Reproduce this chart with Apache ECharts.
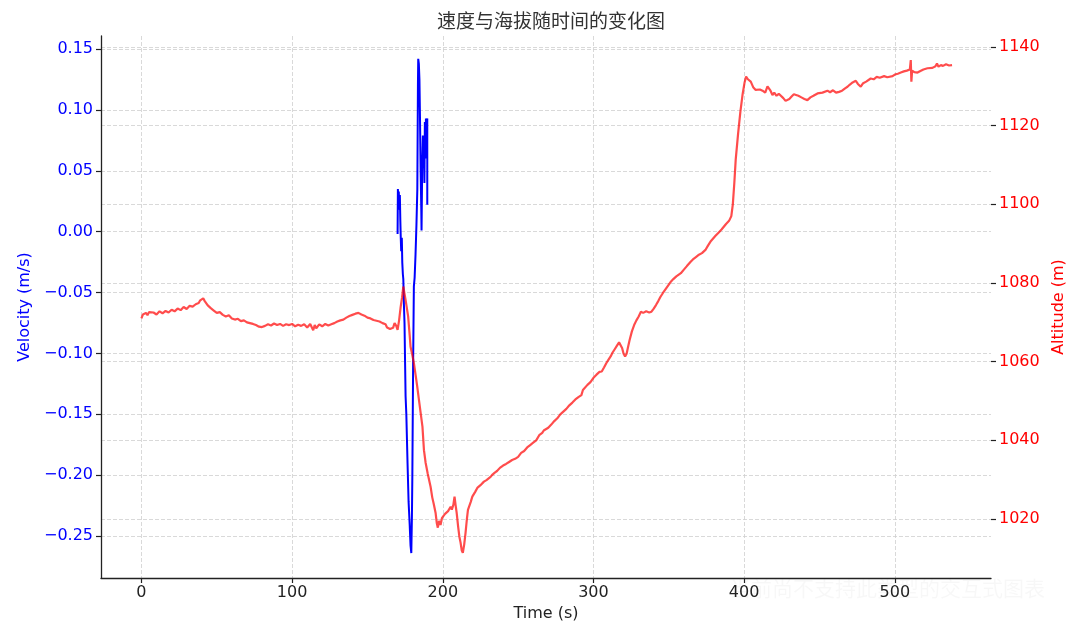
<!DOCTYPE html>
<html>
<head>
<meta charset="utf-8">
<script src="https://cdn.jsdelivr.net/npm/echarts@6/dist/echarts.min.js"></script>
<style>html,body{margin:0;padding:0;background:#fff;}#c{width:1080px;height:634px;}</style>
</head>
<body>
<div id="c"></div>
<script>
// ---- data ----
const titleText = '速度与海拔随时间的变化图';
const xTicks = [0, 100, 200, 300, 400, 500];
const velTicks = [-0.25, -0.20, -0.15, -0.10, -0.05, 0.00, 0.05, 0.10, 0.15];
const altTicks = [1020, 1040, 1060, 1080, 1100, 1120, 1140];

const velTime = [170.0,170.2,170.5,170.8,171.1,171.5,171.8,172.1,172.4,172.8,173.1,173.5,173.8,174.2,174.6,175.0,175.3,175.8,176.6,177.3,178.0,178.6,179.1,179.5,179.8,180.3,180.8,181.3,181.9,182.5,183.1,183.5,183.7,184.1,184.5,184.8,185.3,185.7,185.9,186.3,186.8,187.1,187.5,187.8,188.1,188.5,188.8,189.2,189.7,189.7];
const velValues = [-0.002,0.035,0.022,0.033,0.018,0.030,0.010,-0.005,-0.016,-0.005,-0.025,-0.035,-0.039,-0.060,-0.075,-0.110,-0.135,-0.150,-0.190,-0.222,-0.240,-0.258,-0.264,-0.235,-0.200,-0.110,-0.045,-0.038,-0.019,0.005,0.035,0.120,0.142,0.138,0.125,0.100,0.050,0.020,0.001,0.050,0.079,0.055,0.070,0.040,0.090,0.060,0.093,0.080,0.093,0.022];

const altTime = [0,1,2,3,4,5,6,8,10,12,14,16,18,20,22,24,26,28,30,32,34,36,38,39,40,41,42,44,46,48,50,52,54,56,58,60,62,64,66,68,70,72,74,76,78,80,82,84,86,88,90,92,94,96,98,100,102,104,106,108,110,112,114,115,116,118,120,122,124,126,128,130,132,134,136,138,140,142,144,146,148,150,152,154,156,158,160,162,163,164,165,166,167,168,169,170,171,172,173,173.8,174.5,175.3,176,177,178,178.6,179.5,180.8,182,183,184,185.3,186.5,187.5,188.6,190,191.9,193,194,195.2,196,196.7,197.5,198.5,199.5,200.5,201.5,202.5,203.5,204.5,205.2,206,207,207.8,208.5,209.2,210.2,211,211.8,212.6,213.3,214.2,215.1,216,216.7,217.5,218.5,219.6,220.5,221.5,222.9,224,225,226,227.3,229,230,231.7,233,234.5,236,237.9,240,242,244,246,248,250,252,254,256,258,260,261,262,264,266,267,268,270,272,274,276,278,280,282,284,286,288,290,292,293,294,296,298,300,302,304,305.5,307,308.5,310,311.5,312.5,314,315.5,317,318,319,320,321,322,323,324,325.5,327,328.5,330,331.5,333,335,337,338.5,340,341.5,343,344.5,346,348,350,351.5,353,355,358,360,362,364.5,366,368,370,372,374.5,376,378,379,381,383,385,386.5,388,390,391.5,392.5,393.5,394.4,396,397.5,399,400.3,401.3,402.5,404.4,406,407.7,409,410.5,412.2,414,415.5,416.5,417.5,418.8,420,421.5,423,424.3,426,427.5,428.8,430,431.5,433,434.3,436,438,440,442,444,446,448.7,450,452,455.3,457,459,461,463,465,467,468.6,470,472,474.1,475.5,477.4,479,481,484,486,488,490,492.9,495,498.5,500,502,504,506,508,510,510.6,511,511.5,513,515.1,517,519,521.7,523,525,527,528,529,530.6,532,534,536,538];
const altValues = [1071.0,1072.0,1071.6,1072.4,1071.8,1072.6,1072.1,1072.5,1072.0,1072.8,1072.3,1072.9,1072.5,1073.2,1072.8,1073.5,1073.1,1073.9,1073.4,1074.2,1074.0,1074.6,1074.9,1075.6,1075.2,1076.1,1075.4,1074.3,1073.6,1073.0,1072.4,1072.6,1071.9,1071.5,1071.8,1071.0,1070.7,1070.9,1070.3,1070.5,1070.0,1069.8,1069.6,1069.3,1068.9,1068.8,1069.1,1069.5,1069.2,1069.7,1069.3,1069.6,1069.1,1069.5,1069.3,1069.6,1069.0,1069.4,1069.1,1069.5,1068.7,1069.6,1068.0,1069.3,1068.5,1069.5,1069.0,1069.6,1069.2,1069.5,1069.8,1070.2,1070.5,1070.7,1071.2,1071.6,1071.9,1072.2,1072.4,1072.0,1071.7,1071.2,1071.0,1070.6,1070.4,1070.2,1069.8,1069.5,1068.7,1069.2,1068.3,1067.8,1068.6,1069.8,1069.2,1068.1,1070.5,1073.8,1076.4,1079.1,1077.5,1075.7,1074.0,1071.5,1066.8,1063.8,1062.2,1059.7,1056.5,1053.8,1050.8,1047.0,1043.5,1037.5,1034.3,1031.5,1028.2,1025.5,1023.8,1021.6,1019.0,1017.8,1019.5,1018.5,1020.3,1019.8,1021.3,1020.8,1022.0,1021.6,1023.1,1022.4,1023.6,1025.7,1023.5,1021.6,1018.0,1015.5,1014.0,1012.0,1011.4,1013.5,1016.5,1020.0,1022.3,1022.0,1024.3,1025.7,1025.2,1026.9,1027.9,1027.6,1028.6,1028.4,1029.5,1029.9,1030.3,1030.7,1031.3,1031.8,1032.2,1033.0,1033.6,1034.0,1034.5,1035.0,1035.3,1035.8,1036.8,1037.3,1038.2,1038.8,1039.4,1039.1,1040.0,1041.3,1041.9,1042.5,1042.0,1043.2,1044.0,1044.9,1045.6,1046.6,1047.3,1048.0,1048.9,1049.6,1050.4,1051.0,1051.5,1052.8,1053.0,1054.1,1054.8,1055.9,1056.7,1057.4,1057.5,1058.5,1059.6,1060.5,1061.4,1062.2,1063.1,1064.0,1064.9,1064.6,1063.5,1062.0,1061.3,1062.0,1063.8,1065.5,1067.7,1069.3,1070.5,1071.5,1072.7,1072.4,1072.8,1072.5,1072.7,1073.5,1074.4,1075.4,1076.5,1077.4,1078.5,1079.6,1080.4,1081.0,1081.7,1082.5,1083.4,1084.3,1085.4,1086.0,1086.6,1087.2,1087.6,1088.5,1089.5,1090.7,1090.2,1092.0,1092.8,1093.6,1094.3,1095.0,1095.8,1097.0,1100.0,1105.5,1111.3,1118.0,1123.5,1128.0,1131.0,1132.5,1131.8,1131.2,1129.8,1129.1,1128.6,1129.2,1128.9,1128.4,1130.0,1130.3,1128.9,1127.8,1128.4,1127.6,1128.1,1127.8,1127.0,1126.3,1125.8,1126.8,1127.4,1128.0,1128.2,1127.6,1127.2,1126.8,1126.5,1127.2,1127.6,1128.2,1127.8,1128.4,1128.9,1128.5,1129.0,1128.4,1128.6,1128.9,1129.5,1129.9,1130.4,1131.0,1131.4,1130.6,1129.9,1130.8,1131.2,1132.0,1131.8,1132.4,1132.2,1132.6,1132.3,1132.6,1133.0,1133.2,1133.5,1133.8,1134.0,1134.3,1136.7,1131.2,1134.0,1133.6,1133.5,1133.9,1134.3,1134.6,1134.9,1134.7,1135.1,1135.8,1135.0,1135.4,1135.2,1135.6,1135.3,1135.4];

// ---- chart ----
const zip = (a, b) => a.map((v, i) => [v, b[i]]);
const FONT = 'DejaVu Sans';
const gridLine = { show: true, lineStyle: { color: '#cfcfcf', type: [4, 2], width: 0.8 } };
const tickStyle = { show: true, length: 5, lineStyle: { color: '#222', width: 1.2 } };
const minus = s => s.replace('-', '\u2212');

const chart = echarts.init(document.getElementById('c'), null, { renderer: 'canvas' });
chart.setOption({
  animation: false,
  backgroundColor: '#ffffff',
  title: {
    text: titleText, left: 546, top: 6, textAlign: 'center',
    textStyle: { fontFamily: 'Noto Sans CJK SC', fontSize: 19, fontWeight: 'normal', color: '#333' }
  },
  grid: { left: 101, right: 89, top: 36, bottom: 56, containLabel: false },
  xAxis: {
    type: 'value', min: -26.85, max: 563.85,
    name: 'Time (s)', nameLocation: 'middle', nameGap: 28,
    nameTextStyle: { fontFamily: FONT, fontSize: 16, color: '#222' },
    axisLine: { show: true, onZero: false, lineStyle: { color: '#222', width: 1.3 } },
    axisTick: Object.assign({ customValues: xTicks }, tickStyle),
    axisLabel: { customValues: xTicks, fontFamily: FONT, fontSize: 16, color: '#222', margin: 7,
      formatter: v => String(Math.round(v)) },
    splitLine: gridLine
  },
  yAxis: [
    {
      type: 'value', min: -0.2845, max: 0.1607, position: 'left',
      name: 'Velocity (m/s)', nameLocation: 'middle', nameGap: 68,
      nameTextStyle: { fontFamily: FONT, fontSize: 16, color: 'blue' },
      axisLine: { show: true, onZero: false, lineStyle: { color: '#222', width: 1.3 } },
      axisTick: Object.assign({ customValues: velTicks }, tickStyle),
      axisLabel: { customValues: velTicks, fontFamily: FONT, fontSize: 16, color: 'blue', margin: 8,
        formatter: v => minus(Number(v).toFixed(2)) },
      splitLine: gridLine
    },
    {
      type: 'value', min: 1005.0, max: 1142.8, position: 'right',
      name: 'Altitude (m)', nameLocation: 'middle', nameGap: 58,
      nameTextStyle: { fontFamily: FONT, fontSize: 16, color: 'red' },
      axisLine: { show: false, onZero: false },
      axisTick: Object.assign({ customValues: altTicks }, tickStyle),
      axisLabel: { customValues: altTicks, fontFamily: FONT, fontSize: 16, color: 'red', margin: 8,
        formatter: v => String(Math.round(v)) },
      splitLine: gridLine
    }
  ],
  series: [
    {
      type: 'line', name: 'Velocity', yAxisIndex: 0, data: zip(velTime, velValues),
      showSymbol: false, symbol: 'none', lineStyle: { color: '#0000ff', width: 2 }, z: 2
    },
    {
      type: 'line', name: 'Altitude', yAxisIndex: 1, data: zip(altTime, altValues),
      showSymbol: false, symbol: 'none', lineStyle: { color: 'rgba(255,0,0,0.7)', width: 2.2 }, z: 3
    }
  ],
  graphic: [
    { type: 'text', left: 730, top: 578, silent: true,
      style: { text: '当前尚不支持此类型的交互式图表', fontFamily: 'Noto Sans CJK SC', fontSize: 21, fill: 'rgba(0,0,0,0.03)' } }
  ]
});
</script>
</body>
</html>
